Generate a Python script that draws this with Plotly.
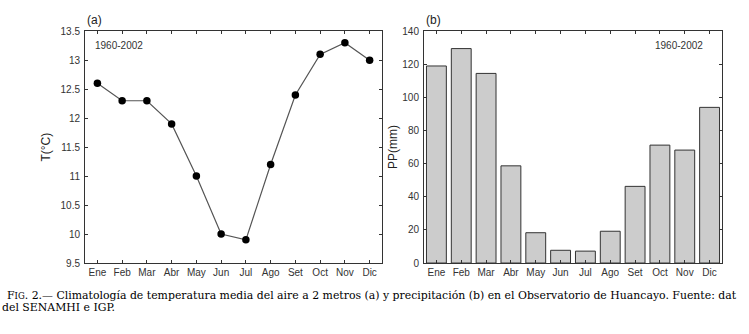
import plotly.graph_objects as go

months = ["Ene", "Feb", "Mar", "Abr", "May", "Jun", "Jul", "Ago", "Set", "Oct", "Nov", "Dic"]
month_idx = list(range(1, 13))
temperature = [12.6, 12.3, 12.3, 11.9, 11.0, 10.0, 9.9, 11.2, 12.4, 13.1, 13.3, 13.0]
precipitation = [119, 129.5, 114.5, 58.7, 18.3, 7.7, 7.2, 19.2, 46.3, 71.2, 68.2, 94.0]
temp_ticks = [9.5, 10, 10.5, 11, 11.5, 12, 12.5, 13, 13.5]
temp_ticktext = ["9.5", "10", "10.5", "11", "11.5", "12", "12.5", "13", "13.5"]
pp_ticks = [0, 20, 40, 60, 80, 100, 120, 140]

W, H = 749, 334
axc = "#333333"
tickfont = dict(family="Liberation Sans, Arial, sans-serif", size=10, color="#333333")

fig = go.Figure()
fig.add_trace(go.Scatter(
    x=month_idx, y=temperature, mode="lines+markers",
    line=dict(color="#555555", width=1.2),
    marker=dict(color="black", size=7.5),
    xaxis="x", yaxis="y", showlegend=False,
))
fig.add_trace(go.Bar(
    x=month_idx, y=precipitation, width=0.8,
    marker=dict(color="#cccccc", line=dict(color="#333333", width=1)),
    xaxis="x2", yaxis="y2", showlegend=False,
))

def xax(domain, anchor):
    return dict(domain=domain, anchor=anchor, range=[0.5, 12.5],
                tickmode="array", tickvals=month_idx, ticktext=months,
                ticks="inside", ticklen=3, tickcolor=axc, showline=True,
                linecolor=axc, linewidth=1, mirror="ticks", showgrid=False,
                zeroline=False, tickfont=tickfont, fixedrange=True)

ydom = [(H - 266) / H, (H - 27) / H]

def yax(anchor, rng, vals, text, title, standoff):
    return dict(domain=ydom, anchor=anchor, range=rng,
                tickmode="array", tickvals=vals, ticktext=text,
                ticks="inside", ticklen=3, tickcolor=axc, showline=True,
                linecolor=axc, linewidth=1, mirror="ticks", showgrid=False,
                zeroline=False, tickfont=tickfont, ticklabelstandoff=2,
                title=dict(text=title, font=dict(family="Liberation Sans, Arial, sans-serif", size=12, color="#222222"), standoff=standoff))

fig.update_layout(
    width=W, height=H,
    margin=dict(l=0, r=0, t=0, b=0),
    paper_bgcolor="white", plot_bgcolor="white",
    xaxis=xax([85 / W, 382 / W], "y"),
    yaxis=yax("x", [9.5, 13.5], temp_ticks, temp_ticktext, "T(°C)", 7),
    xaxis2=xax([424 / W, 722 / W], "y2"),
    yaxis2=yax("x2", [0, 140], pp_ticks, [str(v) for v in pp_ticks], "PP(mm)", 2),
    bargap=0.2,
)

ann_font = dict(family="Liberation Sans, Arial, sans-serif", size=10, color="#333333")
fig.add_annotation(text="1960-2002", xref="paper", yref="paper", x=93 / W, y=(H - 42) / H,
                   xanchor="left", yanchor="middle", showarrow=False, font=ann_font)
fig.add_annotation(text="1960-2002", xref="paper", yref="paper", x=705 / W, y=(H - 42) / H,
                   xanchor="right", yanchor="middle", showarrow=False, font=ann_font)
lab_font = dict(family="Liberation Sans, Arial, sans-serif", size=12, color="#222222")
fig.add_annotation(text="(a)", xref="paper", yref="paper", x=85 / W, y=(H - 15) / H,
                   xanchor="left", yanchor="middle", showarrow=False, font=lab_font)
fig.add_annotation(text="(b)", xref="paper", yref="paper", x=424 / W, y=(H - 15) / H,
                   xanchor="left", yanchor="middle", showarrow=False, font=lab_font)

cap_font = dict(family="DejaVu Serif, Liberation Serif, serif", size=10.9, color="black")
line1 = ('F<span style="font-size:8.5px">IG</span>. 2.— Climatología de temperatura media del aire a 2 metros (a) '
         'y precipitación (b) en el Observatorio de Huancayo. Fuente: dat')
fig.add_annotation(text=line1, xref="paper", yref="paper", x=5 / W, y=(H - 299) / H,
                   xanchor="left", yanchor="middle", showarrow=False, font=cap_font, align="left")
fig.add_annotation(text="del SENAMHI e IGP.", xref="paper", yref="paper", x=0, y=(H - 312) / H,
                   xanchor="left", yanchor="middle", showarrow=False, font=cap_font, align="left")

fig.write_html("out.html", config={"displayModeBar": False},
               post_script="document.body.style.margin='0';document.body.style.overflow='hidden';")
